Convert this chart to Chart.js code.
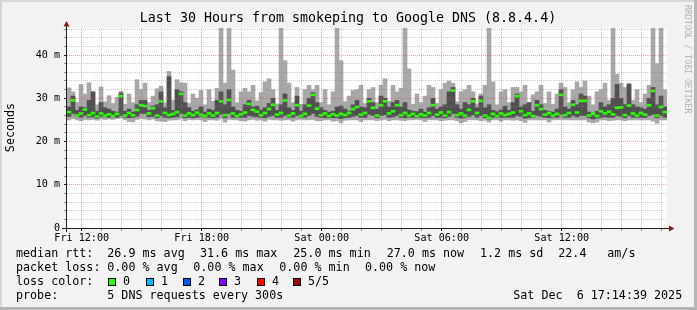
<!DOCTYPE html>
<html>
<head>
<meta charset="utf-8">
<title>Last 30 Hours from smokeping to Google DNS (8.8.4.4)</title>
<script src="https://cdn.jsdelivr.net/npm/chart.js@4.4.1/dist/chart.umd.min.js"></script>
<style>
  html, body { margin: 0; padding: 0; background: #f2f2f2; }
  canvas { display: block; }
</style>
</head>
<body>
<canvas id="smoke" width="697" height="310"></canvas>
<script>
// RTT per 12 minute column, in ms
const rttMax = [
  32.4, 31.5, 29.0, 33.2, 31.0, 33.6, 31.5, 28.5, 32.6, 29.2,
  30.6, 28.8, 30.2, 31.6, 28.6, 31.0, 29.0, 34.3, 32.0, 33.5,
  29.0, 30.5, 32.2, 32.8, 28.9, 36.2, 29.5, 34.3, 33.6, 33.5,
  28.8, 31.0, 30.0, 31.8, 28.5, 32.0, 29.3, 32.3, 47.5, 33.5,
  47.5, 36.5, 29.0, 31.5, 32.3, 31.5, 33.0, 29.4, 31.3, 33.8,
  34.5, 32.0, 28.7, 47.5, 38.7, 33.5, 29.0, 32.5, 28.6, 32.0,
  33.0, 32.0, 33.0, 29.0, 32.0, 28.5, 31.5, 47.5, 38.7, 29.2,
  30.5, 31.8, 32.0, 33.0, 28.8, 32.0, 32.5, 29.0, 33.0, 34.5,
  29.3, 33.0, 31.5, 32.3, 47.5, 36.8, 28.6, 31.0, 29.0, 30.5,
  33.0, 32.5, 28.8, 32.0, 33.5, 34.0, 33.5, 29.2, 31.5, 32.0,
  33.0, 31.5, 28.7, 31.0, 33.0, 47.5, 33.8, 28.5, 31.5, 32.0,
  29.0, 32.5, 32.5, 31.5, 33.0, 29.0, 30.8, 31.5, 33.0, 28.8,
  31.5, 28.6, 31.0, 33.5, 32.5, 29.0, 32.0, 33.8, 32.5, 34.0,
  30.5, 28.5, 31.5, 32.0, 33.5, 29.5, 47.5, 35.6, 33.5, 32.5,
  33.5, 29.5, 32.0, 29.0, 31.0, 33.0, 47.5, 38.0, 47.5, 32.0
];
const rttHigh = [
  28.0, 30.5, 27.2, 28.0, 27.8, 29.5, 31.5, 27.0, 29.0, 27.8,
  27.5, 27.0, 26.8, 31.2, 27.0, 27.5, 26.8, 28.5, 29.5, 29.5,
  27.2, 28.2, 28.5, 31.5, 27.8, 35.0, 27.2, 32.0, 31.5, 29.0,
  27.8, 27.0, 27.3, 28.0, 26.8, 27.5, 27.2, 29.5, 31.5, 28.5,
  32.0, 28.0, 27.2, 27.0, 28.5, 29.5, 28.0, 28.2, 27.3, 27.8,
  28.8, 30.0, 27.2, 28.5, 31.0, 27.8, 27.2, 30.5, 27.0, 28.5,
  30.0, 31.3, 29.0, 27.8, 27.2, 26.8, 27.0, 28.0, 28.2, 27.5,
  27.0, 28.5, 29.5, 28.0, 27.8, 30.0, 29.0, 27.5, 30.5, 30.0,
  28.0, 29.0, 29.5, 28.0, 29.0, 27.3, 27.0, 26.9, 27.5, 26.8,
  27.8, 30.0, 27.5, 28.0, 28.5, 31.5, 32.5, 28.5, 27.5, 29.0,
  28.5, 30.0, 27.8, 30.5, 27.8, 28.5, 27.2, 26.9, 27.3, 28.2,
  27.2, 29.0, 31.0, 28.0, 28.5, 29.0, 27.0, 29.5, 28.5, 27.2,
  27.0, 26.8, 27.5, 32.0, 28.0, 27.5, 29.5, 28.5, 31.0, 30.5,
  26.8, 26.5, 27.0, 29.0, 28.0, 28.5, 30.0, 33.2, 30.0, 28.5,
  33.2, 28.5, 28.0, 27.8, 27.5, 30.0, 32.5, 28.5, 30.5, 28.0
];
const rttMedian = [
  26.8, 29.5, 26.0, 26.5, 27.4, 26.1, 26.6, 25.8, 26.5, 26.0,
  26.3, 25.9, 26.4, 30.5, 26.0, 26.6, 26.1, 27.3, 28.4, 28.2,
  26.5, 27.7, 26.0, 29.3, 26.6, 26.1, 26.4, 26.8, 31.0, 26.0,
  26.5, 26.1, 26.7, 26.2, 25.9, 26.5, 26.0, 26.6, 29.3, 26.1,
  29.6, 26.5, 25.9, 26.3, 26.7, 28.7, 27.3, 26.9, 26.1, 26.6,
  27.5, 28.5, 26.2, 26.6, 29.5, 26.0, 26.5, 28.4, 25.9, 26.4,
  28.3, 30.8, 27.6, 26.1, 26.5, 25.9, 26.3, 26.0, 26.4, 26.1,
  26.6, 27.5, 28.0, 26.2, 26.6, 29.3, 27.8, 26.0, 28.4, 29.3,
  26.5, 27.0, 28.4, 26.1, 26.6, 26.0, 26.4, 25.9, 26.3, 26.0,
  26.6, 28.4, 26.2, 26.7, 26.0, 26.8, 31.8, 26.1, 26.5, 26.0,
  27.3, 29.3, 26.6, 29.4, 26.0, 25.5, 26.4, 25.9, 26.5, 26.1,
  26.4, 26.7, 30.5, 27.0, 26.1, 26.5, 25.9, 28.4, 27.5, 26.2,
  26.6, 26.0, 26.4, 30.8, 26.1, 26.6, 28.5, 26.7, 29.4, 29.4,
  26.0, 26.4, 25.9, 27.0, 26.5, 26.9, 26.3, 27.8, 27.9, 26.1,
  28.3, 26.5, 26.0, 26.6, 26.2, 28.4, 31.7, 26.0, 28.0, 26.8
];
const rttLow = [
  25.8, 26.5, 25.8, 25.6, 26.0, 25.6, 25.7, 25.4, 25.8, 25.7,
  25.6, 25.7, 25.6, 26.0, 25.6, 25.5, 25.6, 25.8, 26.5, 26.5,
  25.7, 25.8, 25.5, 26.0, 25.6, 25.5, 25.6, 25.7, 26.5, 25.5,
  25.6, 25.5, 25.6, 25.8, 25.6, 25.6, 25.5, 25.6, 26.3, 25.5,
  26.5, 25.6, 25.6, 25.6, 25.6, 26.0, 25.8, 25.7, 25.6, 25.5,
  25.8, 26.0, 25.6, 25.6, 26.0, 25.6, 25.6, 26.0, 25.6, 25.6,
  26.0, 26.5, 25.8, 25.6, 25.5, 25.5, 25.5, 25.5, 25.3, 25.5,
  25.6, 25.8, 26.0, 25.6, 25.6, 26.3, 26.0, 25.5, 26.0, 26.2,
  25.6, 25.7, 26.0, 25.6, 25.5, 25.6, 25.6, 25.6, 25.6, 25.5,
  25.6, 26.0, 25.6, 25.6, 25.5, 25.8, 26.5, 25.6, 25.4, 25.6,
  25.8, 26.2, 25.6, 26.0, 25.5, 25.2, 25.6, 25.6, 25.6, 25.6,
  25.6, 25.6, 26.0, 25.8, 25.4, 25.5, 25.6, 26.0, 25.8, 25.6,
  25.5, 25.6, 25.6, 26.3, 25.6, 25.6, 26.0, 25.7, 26.0, 26.0,
  25.5, 25.2, 25.4, 25.6, 25.7, 25.6, 25.6, 26.0, 25.8, 25.5,
  26.0, 25.6, 25.6, 25.6, 25.6, 26.0, 26.3, 25.5, 26.0, 25.6
];
const rttMin = [
  25.0, 25.3, 25.0, 24.8, 25.1, 25.0, 25.1, 24.9, 25.2, 25.1,
  25.2, 25.1, 25.3, 25.4, 25.0, 24.6, 24.5, 25.1, 25.3, 25.2,
  25.0, 25.2, 24.8, 24.7, 24.6, 24.9, 25.0, 25.0, 25.2, 24.8,
  25.1, 25.0, 25.1, 25.0, 24.6, 25.0, 25.0, 24.9, 25.2, 24.5,
  25.1, 25.0, 25.0, 24.8, 24.7, 25.0, 25.1, 24.9, 25.0, 24.7,
  25.1, 25.0, 25.0, 24.9, 25.0, 25.0, 24.7, 25.0, 25.1, 25.0,
  25.0, 25.1, 24.8, 24.8, 25.0, 25.0, 24.7, 24.8, 24.3, 24.9,
  25.0, 25.0, 25.0, 24.6, 25.0, 25.0, 25.0, 24.8, 25.0, 25.1,
  24.8, 25.0, 25.0, 24.9, 24.8, 25.0, 25.0, 25.1, 25.0, 24.6,
  25.0, 25.0, 25.0, 24.8, 24.9, 25.0, 25.0, 24.8, 24.3, 24.6,
  25.0, 25.0, 25.0, 24.8, 24.9, 24.5, 25.0, 25.0, 24.7, 25.0,
  25.0, 24.9, 25.0, 24.8, 24.4, 25.0, 25.0, 25.0, 25.0, 25.0,
  24.5, 25.0, 25.0, 25.1, 25.0, 25.0, 25.0, 25.0, 25.0, 25.0,
  24.5, 24.3, 24.5, 25.0, 25.0, 24.8, 24.9, 25.0, 25.0, 24.8,
  25.0, 25.0, 25.0, 25.0, 25.0, 25.0, 24.7, 24.2, 25.0, 25.0
];

// time axis in hours after Fri 12:00
const startHour = -0.735;
const stepHours = 0.2;
const endHour = 29.265;
const labelHours = [0, 6, 12, 18, 24];
const labelTexts = ["Fri 12:00", "Fri 18:00", "Sat 00:00", "Sat 06:00", "Sat 12:00"];
const yMax = 46.25;

const lossColors = ["#26ff00", "#00b8ff", "#0059ff", "#7e00ff", "#ff0000", "#a10000"];
const lossLabels = ["0", "1", "2", "3", "4", "5/5"];

const rttLegend = ["26.9 ms avg", "31.6 ms max", "25.0 ms min", "27.0 ms now", "1.2 ms sd", "22.4", "am/s"];
const lossLegend = ["0.00 % avg", "0.00 % max", "0.00 % min", "0.00 % now"];
const probeText = "5 DNS requests every 300s";
const stampText = "Sat Dec  6 17:14:39 2025";

const MONO = '"DejaVu Sans Mono", monospace';
const MEDIAN_HALF = 0.23; // median drawn as 2px band
const GRID_MINOR = "rgba(143,143,143,0.45)";
const GRID_MAJOR = "rgba(222,79,79,0.5)";

const hours = rttMedian.map((_, i) => startHour + (i + 0.5) * stepHours);
const outer = hours.map((x, i) => ({ x: x, y: [rttMin[i], rttMax[i]] }));
const inner = hours.map((x, i) => ({ x: x, y: [rttLow[i], rttHigh[i]] }));
const median = hours.map((x, i) => ({ x: x, y: [rttMedian[i] - MEDIAN_HALF, rttMedian[i] + MEDIAN_HALF] }));

const gridHours = Array.from({ length: 30 }, (_, h) => h);
const gridMs = Array.from({ length: 24 }, (_, k) => k * 2);

const rrdFrame = {
  id: "rrdFrame",
  beforeDraw(chart) {
    const { ctx, width, height, chartArea: a } = chart;
    ctx.save();
    ctx.fillStyle = "#f2f2f2";
    ctx.fillRect(0, 0, width, height);
    ctx.fillStyle = "#d6d6d6";
    ctx.fillRect(0, 0, width, 2);
    ctx.fillRect(0, 0, 2, height);
    ctx.fillStyle = "#b6b6b6";
    ctx.fillRect(width - 3, 0, 3, height);
    ctx.fillRect(0, height - 3, width, 3);
    ctx.fillStyle = "#ffffff";
    ctx.fillRect(a.left, a.top, a.right - a.left, a.bottom - a.top);
    ctx.restore();
  },
  afterDraw(chart) {
    const { ctx, chartArea: a } = chart;
    ctx.save();

    // axes with arrows
    ctx.strokeStyle = "#1f1f1f";
    ctx.lineWidth = 1;
    ctx.beginPath();
    ctx.moveTo(a.left - 0.5, a.bottom + 4);
    ctx.lineTo(a.left - 0.5, a.top - 3);
    ctx.moveTo(a.left - 5, a.bottom + 0.5);
    ctx.lineTo(a.right + 3, a.bottom + 0.5);
    ctx.stroke();
    ctx.fillStyle = "#801f1f";
    ctx.beginPath();
    ctx.moveTo(a.left - 0.5, a.top - 7);
    ctx.lineTo(a.left - 3.5, a.top - 1.5);
    ctx.lineTo(a.left + 2.5, a.top - 1.5);
    ctx.closePath();
    ctx.fill();
    ctx.beginPath();
    ctx.moveTo(a.right + 7.5, a.bottom + 0.5);
    ctx.lineTo(a.right + 2, a.bottom - 2.5);
    ctx.lineTo(a.right + 2, a.bottom + 3.5);
    ctx.closePath();
    ctx.fill();

    ctx.fillStyle = "#000";
    ctx.textBaseline = "middle";

    // title
    ctx.font = "13.3px " + MONO;
    ctx.textAlign = "center";
    ctx.fillText("Last 30 Hours from smokeping to Google DNS (8.8.4.4)", 348, 18.7);

    // y axis title
    ctx.save();
    ctx.translate(11, 127.5);
    ctx.rotate(-Math.PI / 2);
    ctx.font = "11.7px " + MONO;
    ctx.fillText("Seconds", 0, 0);
    ctx.restore();

    // watermark
    ctx.save();
    ctx.translate(687.5, 5);
    ctx.rotate(Math.PI / 2);
    ctx.textAlign = "left";
    ctx.font = "8.2px " + MONO;
    ctx.fillStyle = "rgba(0,0,0,0.28)";
    ctx.fillText("RRDTOOL / TOBI OETIKER", 0, 0);
    ctx.restore();

    // legend block
    ctx.textAlign = "left";
    ctx.font = "11.7px " + MONO;
    const rttX = [107.3, 200, 293.3, 386.7, 480, 558.3, 607.3];
    ctx.fillText("median rtt:", 16, 253.5);
    rttLegend.forEach((t, i) => ctx.fillText(t, rttX[i], 253.5));

    const lossX = [107.3, 193.3, 279.3, 365];
    ctx.fillText("packet loss:", 16, 268);
    lossLegend.forEach((t, i) => ctx.fillText(t, lossX[i], 268));

    ctx.fillText("loss color:", 16, 282);
    const boxX = [108.3, 145.7, 182.7, 219.3, 256.7, 293.3];
    lossColors.forEach((c, i) => {
      const bx = Math.round(boxX[i]);
      ctx.fillStyle = c;
      ctx.fillRect(bx, 278, 8, 8);
      ctx.strokeStyle = "#000";
      ctx.strokeRect(bx + 0.5, 278.5, 7, 7);
      ctx.fillStyle = "#000";
      ctx.fillText(lossLabels[i], bx + 15, 282);
    });

    ctx.fillText("probe:", 16, 296.3);
    ctx.fillText(probeText, 107.3, 296.3);
    ctx.fillText(stampText, 513.3, 296.3);

    ctx.restore();
  }
};

new Chart(document.getElementById("smoke"), {
  type: "bar",
  data: {
    datasets: [
      { label: "median rtt", data: median, backgroundColor: lossColors[0] },
      { label: "smoke 2-4", data: inner, backgroundColor: "#505050" },
      { label: "smoke 1-5", data: outer, backgroundColor: "#a8a8a8" }
    ]
  },
  options: {
    responsive: false,
    animation: false,
    devicePixelRatio: 1,
    layout: { padding: { left: 0, right: 30, top: 28, bottom: 0 } },
    datasets: {
      bar: { grouped: false, barPercentage: 1, categoryPercentage: 1, borderWidth: 0 }
    },
    plugins: {
      legend: { display: false },
      tooltip: { enabled: false }
    },
    scales: {
      x: {
        type: "linear",
        min: startHour,
        max: endHour,
        offset: false,
        afterFit: (s) => { s.height = 82; },
        afterBuildTicks: (s) => { s.ticks = gridHours.map((h) => ({ value: h })); },
        grid: {
          offset: false,
          z: 1,
          color: (c) => (c.tick && c.tick.value % 3 === 0 ? GRID_MAJOR : GRID_MINOR),
          tickColor: (c) => (c.tick && c.tick.value % 6 === 0 ? "#1f1f1f" : "#8f8f8f"),
          tickLength: 3
        },
        border: { display: false, dash: [1, 1] },
        ticks: {
          autoSkip: false,
          maxRotation: 0,
          padding: 1,
          color: "#000",
          font: { family: MONO, size: 10.1 },
          callback: (v) => {
            const i = labelHours.indexOf(v);
            return i >= 0 ? labelTexts[i] : "";
          }
        }
      },
      y: {
        min: 0,
        max: yMax,
        afterFit: (s) => { s.width = 67; },
        afterBuildTicks: (s) => { s.ticks = gridMs.map((v) => ({ value: v })); },
        grid: {
          z: 1,
          color: (c) => (c.tick && c.tick.value % 10 === 0 ? GRID_MAJOR : GRID_MINOR),
          tickColor: (c) => (c.tick && c.tick.value % 10 === 0 ? "#1f1f1f" : "#8f8f8f"),
          tickLength: 3
        },
        border: { display: false, dash: [1, 1] },
        ticks: {
          autoSkip: false,
          padding: 4,
          color: "#000",
          font: { family: MONO, size: 10.1 },
          callback: (v) => (v % 10 === 0 ? (v === 0 ? "0" : v + " m") : "")
        }
      }
    }
  },
  plugins: [rrdFrame]
});
</script>
</body>
</html>
